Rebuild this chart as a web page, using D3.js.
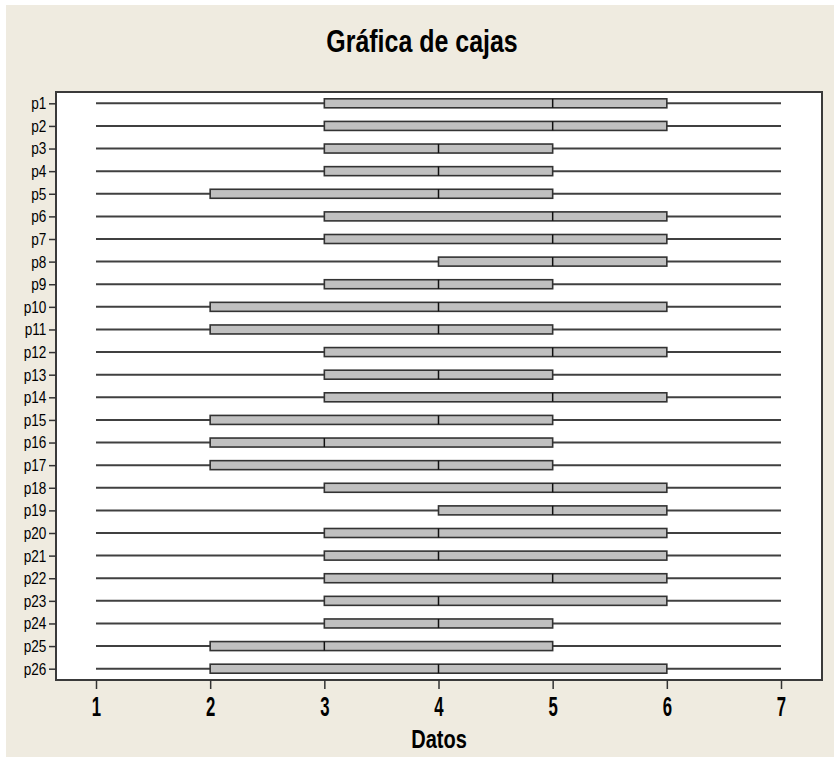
<!DOCTYPE html>
<html>
<head>
<meta charset="utf-8">
<script src="https://cdn.jsdelivr.net/npm/d3@7"></script>
<style>
  html, body { margin: 0; padding: 0; background: #ffffff; }
  svg { display: block; }
  text { font-family: "Liberation Sans", Arial, sans-serif; fill: #000; }
</style>
</head>
<body>
<script>
// ---------- data ----------
const categories = ["p1","p2","p3","p4","p5","p6","p7","p8","p9","p10","p11","p12","p13",
                    "p14","p15","p16","p17","p18","p19","p20","p21","p22","p23","p24","p25","p26"];
const minValues    = [1,1,1,1,1,1,1,1,1,1,1,1,1,1,1,1,1,1,1,1,1,1,1,1,1,1];
const q1Values     = [3,3,3,3,2,3,3,4,3,2,2,3,3,3,2,2,2,3,4,3,3,3,3,3,2,2];
const medianValues = [5,5,4,4,4,5,5,5,4,4,4,5,4,5,4,3,4,5,5,4,4,5,4,4,3,4];
const q3Values     = [6,6,5,5,5,6,6,6,5,6,5,6,5,6,5,5,5,6,6,6,6,6,6,5,5,6];
const maxValues    = [7,7,7,7,7,7,7,7,7,7,7,7,7,7,7,7,7,7,7,7,7,7,7,7,7,7];
const xTickValues  = [1,2,3,4,5,6,7];
const titleText = "Gráfica de cajas";
const xLabelText = "Datos";

// ---------- layout ----------
const W = 834, H = 760;
const frame = { left: 56, top: 92, right: 822, bottom: 680 };

const svg = d3.select("body").append("svg").attr("width", W).attr("height", H);

svg.append("rect").attr("x", 0).attr("y", 0).attr("width", W).attr("height", H).attr("fill", "#ffffff");
svg.append("rect").attr("x", 6).attr("y", 5).attr("width", W - 6).attr("height", 752).attr("fill", "#EFEBE0");

const x = d3.scaleLinear().domain([1, 7]).range([96, 781]);
const y = d3.scalePoint().domain(categories).range([frame.top, frame.bottom]).padding(0.5);

// plot frame
svg.append("rect")
  .attr("x", frame.left).attr("y", frame.top)
  .attr("width", frame.right - frame.left).attr("height", frame.bottom - frame.top)
  .attr("fill", "#ffffff").attr("stroke", "#3a3a3a").attr("stroke-width", 2);

// title
svg.append("text")
  .attr("transform", "translate(422,52) scale(0.78,1)")
  .attr("text-anchor", "middle")
  .attr("font-size", 32).attr("font-weight", "bold")
  .text(titleText);

// boxes
const rows = categories.map((c, i) => ({
  cat: c, min: minValues[i], q1: q1Values[i], med: medianValues[i], q3: q3Values[i], max: maxValues[i]
}));

const g = svg.append("g");
const boxH = 9;
const rowG = g.selectAll("g.row").data(rows).join("g").attr("class", "row");

rowG.append("line")
  .attr("x1", d => x(d.min)).attr("x2", d => x(d.max))
  .attr("y1", d => y(d.cat)).attr("y2", d => y(d.cat))
  .attr("stroke", "#404040").attr("stroke-width", 2);

rowG.append("rect")
  .attr("x", d => x(d.q1)).attr("width", d => x(d.q3) - x(d.q1))
  .attr("y", d => y(d.cat) - boxH / 2).attr("height", boxH)
  .attr("fill", "#C0C0C0").attr("stroke", "#333333").attr("stroke-width", 1.6);

rowG.append("line")
  .attr("x1", d => x(d.med)).attr("x2", d => x(d.med))
  .attr("y1", d => y(d.cat) - boxH / 2).attr("y2", d => y(d.cat) + boxH / 2)
  .attr("stroke", "#111111").attr("stroke-width", 1.5);

// y axis
const yAxis = svg.append("g")
  .attr("transform", `translate(${frame.left},0)`)
  .call(d3.axisLeft(y).tickSize(7).tickPadding(5));
yAxis.select(".domain").remove();
yAxis.selectAll(".tick line").attr("stroke", "#333").attr("stroke-width", 1.5);
yAxis.selectAll(".tick text")
  .attr("font-size", 17)
  .attr("font-family", "Liberation Sans, Arial, sans-serif")
  .attr("fill", "#000")
  .attr("transform", "scale(0.8,1)");

// x axis
const xAxis = svg.append("g")
  .attr("transform", `translate(0,${frame.bottom})`)
  .call(d3.axisBottom(x).tickValues(xTickValues).tickFormat(d3.format("d")).tickSize(9).tickPadding(8));
xAxis.select(".domain").remove();
xAxis.selectAll(".tick line").attr("stroke", "#333").attr("stroke-width", 1.5);
xAxis.selectAll(".tick text")
  .attr("font-size", 27)
  .attr("font-weight", "bold")
  .attr("font-family", "Liberation Sans, Arial, sans-serif")
  .attr("fill", "#000")
  .attr("transform", "scale(0.62,1)");

// x label
svg.append("text")
  .attr("transform", "translate(439,748) scale(0.8,1)")
  .attr("text-anchor", "middle")
  .attr("font-size", 25).attr("font-weight", "bold")
  .text(xLabelText);
</script>
</body>
</html>
